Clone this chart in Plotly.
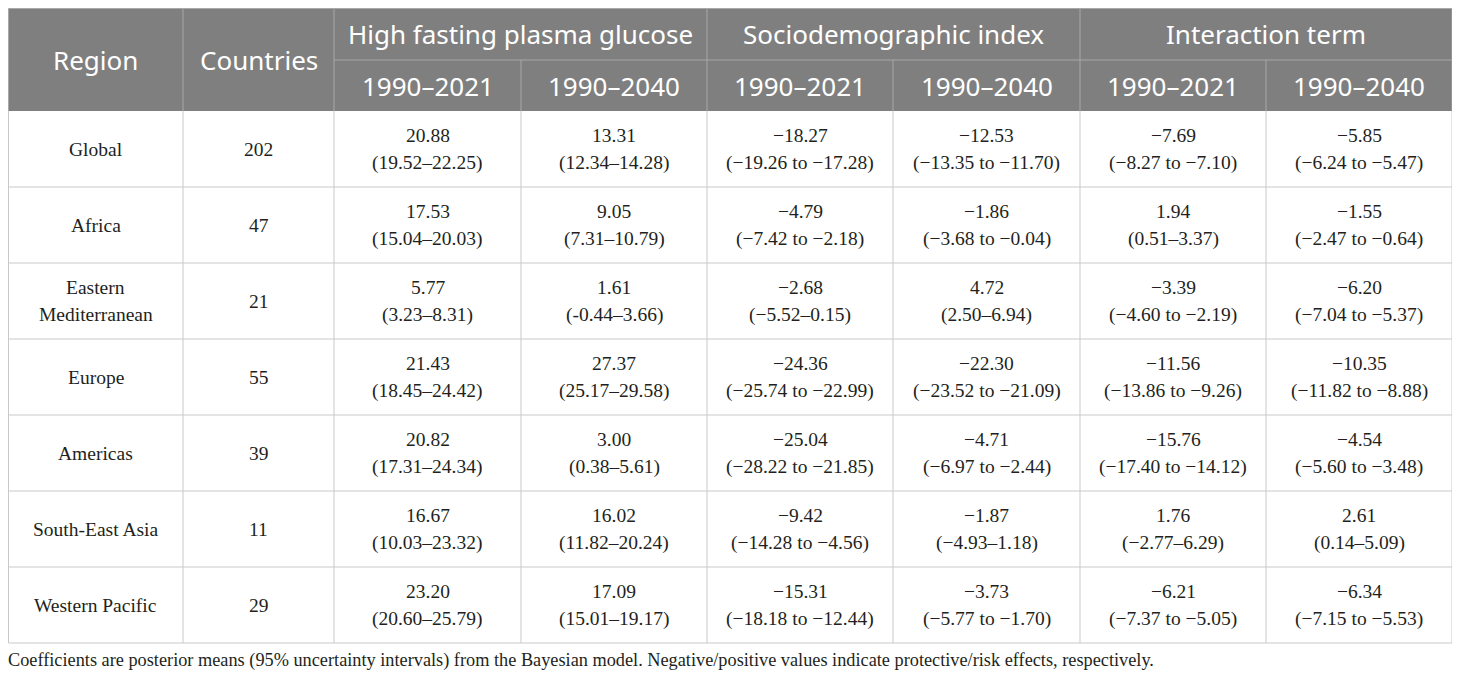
import plotly.graph_objects as go

# ---------------- data ----------------
regions = ["Global", "Africa", "Eastern<br>Mediterranean", "Europe", "Americas",
           "South-East Asia", "Western Pacific"]
countries = [202, 47, 21, 55, 39, 11, 29]

hfpg_2021 = [20.88, 17.53, 5.77, 21.43, 20.82, 16.67, 23.20]
hfpg_2021_ui = ["19.52–22.25", "15.04–20.03", "3.23–8.31", "18.45–24.42",
                "17.31–24.34", "10.03–23.32", "20.60–25.79"]
hfpg_2040 = [13.31, 9.05, 1.61, 27.37, 3.00, 16.02, 17.09]
hfpg_2040_ui = ["12.34–14.28", "7.31–10.79", "-0.44–3.66", "25.17–29.58",
                "0.38–5.61", "11.82–20.24", "15.01–19.17"]
sdi_2021 = [-18.27, -4.79, -2.68, -24.36, -25.04, -9.42, -15.31]
sdi_2021_ui = ["−19.26 to −17.28", "−7.42 to −2.18", "−5.52–0.15", "−25.74 to −22.99",
               "−28.22 to −21.85", "−14.28 to −4.56", "−18.18 to −12.44"]
sdi_2040 = [-12.53, -1.86, 4.72, -22.30, -4.71, -1.87, -3.73]
sdi_2040_ui = ["−13.35 to −11.70", "−3.68 to −0.04", "2.50–6.94", "−23.52 to −21.09",
               "−6.97 to −2.44", "−4.93–1.18", "−5.77 to −1.70"]
int_2021 = [-7.69, 1.94, -3.39, -11.56, -15.76, 1.76, -6.21]
int_2021_ui = ["−8.27 to −7.10", "0.51–3.37", "−4.60 to −2.19", "−13.86 to −9.26",
               "−17.40 to −14.12", "−2.77–6.29", "−7.37 to −5.05"]
int_2040 = [-5.85, -1.55, -6.20, -10.35, -4.54, 2.61, -6.34]
int_2040_ui = ["−6.24 to −5.47", "−2.47 to −0.64", "−7.04 to −5.37", "−11.82 to −8.88",
               "−5.60 to −3.48", "0.14–5.09", "−7.15 to −5.53"]

group_labels = ["High fasting plasma glucose", "Sociodemographic index", "Interaction term"]
period_labels = ["1990–2021", "1990–2040"]
footnote = ("Coefficients are posterior means (95% uncertainty intervals) from the Bayesian model. "
            "Negative/positive values indicate protective/risk effects, respectively.")

# ---------------- layout constants ----------------
# The page body has an 8px margin, so the axes are set up so that one axis unit is
# one screen pixel, with axis value == screen position.
PAGE_MARGIN = 8
SCREEN_W, SCREEN_H = 1460, 680
W, H = SCREEN_W - PAGE_MARGIN, SCREEN_H - PAGE_MARGIN
X0 = 8.5
col_w = [174.5, 151, 187, 186, 186, 187, 186, 186]
Y_TOP = 8.5
HDR1, HDR2 = 51.5, 51
ROW_H = 76
LINE_GAP = 13.5
FOOT_GAP = 17

HDR_FILL = "#7f7f7f"
HDR_LINE = "#a8a8a8"
BODY_LINE = "#c9c9c9"
TEXT = "#231f20"
SANS = "Noto Sans"
SERIF = "Liberation Serif"

edges = [X0]
for w in col_w:
    edges.append(edges[-1] + w)
centers = [(edges[i] + edges[i + 1]) / 2 for i in range(len(col_w))]
y_mid = Y_TOP + HDR1
y_hb = y_mid + HDR2
n_rows = len(regions)
row_edges = [y_hb + i * ROW_H for i in range(n_rows + 1)]

def fmt(v):
    return f"{v:.2f}".replace("-", "−")

value_cols = [(hfpg_2021, hfpg_2021_ui), (hfpg_2040, hfpg_2040_ui),
              (sdi_2021, sdi_2021_ui), (sdi_2040, sdi_2040_ui),
              (int_2021, int_2021_ui), (int_2040, int_2040_ui)]

shapes = []
shapes.append(dict(type="rect", xref="x", yref="y", x0=edges[0], x1=edges[-1],
                   y0=Y_TOP, y1=y_hb, fillcolor=HDR_FILL, line=dict(width=0), layer="below"))

def vline(x, y0, y1, color):
    shapes.append(dict(type="line", xref="x", yref="y", x0=x, x1=x, y0=y0, y1=y1,
                       line=dict(color=color, width=1)))

def hline(y, x0, x1, color):
    shapes.append(dict(type="line", xref="x", yref="y", x0=x0, x1=x1, y0=y, y1=y,
                       line=dict(color=color, width=1)))

# header lines
hline(Y_TOP, edges[0], edges[-1], HDR_LINE)
for i in [0, 1, 2, 4, 6, 8]:
    vline(edges[i], Y_TOP, y_hb, HDR_LINE)
for i in [3, 5, 7]:
    vline(edges[i], y_mid, y_hb, HDR_LINE)
hline(y_mid, edges[2], edges[-1], HDR_LINE)
# body lines
for y in row_edges[1:]:
    hline(y, edges[0], edges[-1], BODY_LINE)
for x in edges:
    vline(x, y_hb, row_edges[-1], BODY_LINE)

ann = []
hdr_font = dict(family=SANS, size=26, color="white")
ann.append(dict(x=centers[0], y=(Y_TOP + y_hb) / 2, text="Region", font=hdr_font))
ann.append(dict(x=centers[1], y=(Y_TOP + y_hb) / 2, text="Countries", font=hdr_font))
for g, lab in enumerate(group_labels):
    cx = (edges[2 + 2 * g] + edges[4 + 2 * g]) / 2
    ann.append(dict(x=cx, y=(Y_TOP + y_mid) / 2, text=lab, font=hdr_font))
    for p, per in enumerate(period_labels):
        ann.append(dict(x=centers[2 + 2 * g + p], y=(y_mid + y_hb) / 2, text=per, font=hdr_font))

body_font = dict(family=SERIF, size=19.5, color=TEXT)
for r in range(n_rows):
    cy = (row_edges[r] + row_edges[r + 1]) / 2
    parts = regions[r].split("<br>")
    if len(parts) == 2:
        ann.append(dict(x=centers[0], y=cy - LINE_GAP, text=parts[0], font=body_font))
        ann.append(dict(x=centers[0], y=cy + LINE_GAP, text=parts[1], font=body_font))
    else:
        ann.append(dict(x=centers[0], y=cy, text=parts[0], font=body_font))
    ann.append(dict(x=centers[1], y=cy, text=str(countries[r]), font=body_font))
    for c, (vals, uis) in enumerate(value_cols):
        ann.append(dict(x=centers[2 + c], y=cy - LINE_GAP, text=fmt(vals[r]), font=body_font))
        ann.append(dict(x=centers[2 + c], y=cy + LINE_GAP, text="(" + uis[r] + ")", font=body_font))

ann.append(dict(x=0, xref="paper", xshift=-2, y=row_edges[-1] + FOOT_GAP, text=footnote,
                xanchor="left", font=dict(family=SERIF, size=18.3, color=TEXT)))

for a in ann:
    a.setdefault("xref", "x")
    a.setdefault("yref", "y")
    a.setdefault("xanchor", "center")
    a.setdefault("yanchor", "middle")
    a["showarrow"] = False

fig = go.Figure()
fig.update_layout(
    width=W, height=H,
    margin=dict(l=0, r=0, t=0, b=0),
    paper_bgcolor="white", plot_bgcolor="white",
    xaxis=dict(range=[PAGE_MARGIN, SCREEN_W], visible=False, fixedrange=True),
    yaxis=dict(range=[SCREEN_H, PAGE_MARGIN], visible=False, fixedrange=True),
    shapes=shapes, annotations=ann, showlegend=False,
)
fig.write_html("out.html")
